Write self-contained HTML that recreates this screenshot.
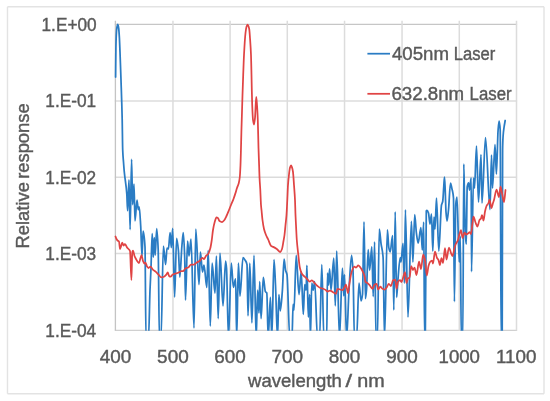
<!DOCTYPE html>
<html><head><meta charset="utf-8"><style>
html,body{margin:0;padding:0;background:#fff;}
svg{display:block;will-change:transform;}
text{font-family:"Liberation Sans",sans-serif;font-size:18px;fill:#595959;stroke:#595959;stroke-width:0.4px;}
</style></head><body>
<svg width="550" height="401" viewBox="0 0 550 401">
<rect x="0" y="0" width="550" height="401" fill="#fff"/>
<path d="M7.5,6.8H544M7.5,6.8V393.7M544,6.8V393.7M7.5,393.7H544" fill="none" stroke="#E3E3E3" stroke-width="1.4"/>
<g stroke="#D9D9D9" stroke-width="1.2" fill="none">
<line x1="114.80000000000001" y1="24.35" x2="517.1" y2="24.35" stroke="#C6C6C6" stroke-width="1.2"/>
<line x1="114.80000000000001" y1="101.10" x2="517.1" y2="101.10" stroke="#DCDCDC" stroke-width="1.5"/>
<line x1="114.80000000000001" y1="177.30" x2="517.1" y2="177.30" stroke="#DBDBDB" stroke-width="1.5"/>
<line x1="114.80000000000001" y1="253.60" x2="517.1" y2="253.60" stroke="#DCDCDC" stroke-width="1.5"/>
<line x1="114.80000000000001" y1="330.40" x2="517.1" y2="330.40" stroke="#D0D0D0" stroke-width="1.3"/>
<line x1="115.4" y1="20.8" x2="115.4" y2="330.5" stroke="#C4C4C4" stroke-width="1.3"/>
<line x1="172.95" y1="20.8" x2="172.95" y2="330.5" stroke="#DCDCDC" stroke-width="1.5"/>
<line x1="230.10" y1="20.8" x2="230.10" y2="330.5" stroke="#DCDCDC" stroke-width="1.5"/>
<line x1="287.30" y1="20.8" x2="287.30" y2="330.5" stroke="#DCDCDC" stroke-width="1.5"/>
<line x1="344.55" y1="20.8" x2="344.55" y2="330.5" stroke="#DCDCDC" stroke-width="1.5"/>
<line x1="402.05" y1="20.8" x2="402.05" y2="330.5" stroke="#DCDCDC" stroke-width="1.5"/>
<line x1="459.30" y1="20.8" x2="459.30" y2="330.5" stroke="#DCDCDC" stroke-width="1.5"/>
<line x1="516.50" y1="20.8" x2="516.50" y2="330.5" stroke="#DCDCDC" stroke-width="1.5"/>
</g>
<defs><clipPath id="pc"><rect x="112.4" y="0" width="407.1" height="330.7"/></clipPath></defs>
<g clip-path="url(#pc)" fill="none" stroke-linejoin="round" stroke-linecap="round">
<path stroke="#2A7CC4" stroke-width="1.75" d="M115.60,77.00C115.70,67.33 115.80,53.12 115.90,48.00C116.02,42.02 116.13,38.39 116.25,36.00C116.43,32.24 116.62,29.52 116.80,28.30C117.12,26.19 117.43,24.40 117.75,24.40C118.07,24.40 118.38,26.24 118.70,28.30C118.92,29.71 119.13,33.33 119.35,37.00C119.57,40.67 119.78,46.56 120.00,52.00C120.33,60.38 120.67,69.88 121.00,80.00C121.40,92.14 121.80,102.16 122.20,120.00C122.37,127.43 122.53,145.81 122.70,150.00C122.97,156.71 123.23,158.36 123.50,162.00C123.77,165.64 124.03,169.16 124.30,172.00C125.13,180.87 125.97,182.91 126.80,194.00C127.07,197.55 127.33,210.70 127.60,210.70C128.07,210.70 128.53,180.00 129.00,180.00C129.37,180.00 129.73,229.60 130.10,229.60C130.60,229.60 131.10,159.30 131.60,159.30C131.93,159.30 132.27,204.60 132.60,204.60C133.07,204.60 133.53,184.00 134.00,184.00C134.33,184.00 134.67,220.80 135.00,220.80C135.67,220.80 136.33,200.00 137.00,200.00C137.43,200.00 137.87,209.60 138.30,209.60C138.60,209.60 138.90,206.80 139.20,206.80C139.70,206.80 140.20,217.71 140.70,226.00C141.13,233.18 141.57,256.00 142.00,256.00C142.37,256.00 142.73,231.20 143.10,231.20C143.73,231.20 144.37,236.44 145.00,247.00C145.33,252.56 145.67,338.00 146.00,338.00C146.83,338.00 147.67,338.00 148.50,338.00C149.00,338.00 149.50,302.88 150.00,290.00C150.33,281.41 150.67,276.26 151.00,268.00C151.40,258.09 151.80,233.70 152.20,233.70C152.57,233.70 152.93,257.00 153.30,257.00C153.63,257.00 153.97,237.50 154.30,237.50C154.60,237.50 154.90,255.00 155.20,255.00C155.70,255.00 156.20,228.50 156.70,228.50C157.20,228.50 157.70,237.70 158.20,250.00C158.60,259.84 159.00,338.00 159.40,338.00C159.93,338.00 160.47,338.00 161.00,338.00C161.80,338.00 162.60,246.00 163.40,246.00C164.13,246.00 164.87,264.60 165.60,264.60C166.07,264.60 166.53,248.00 167.00,248.00C167.47,248.00 167.93,249.00 168.40,249.00C168.97,249.00 169.53,232.60 170.10,232.60C170.50,232.60 170.90,247.60 171.30,247.60C171.77,247.60 172.23,228.40 172.70,228.40C173.33,228.40 173.97,297.00 174.60,297.00C175.27,297.00 175.93,238.30 176.60,238.30C177.20,238.30 177.80,244.32 178.40,250.40C178.87,255.13 179.33,277.00 179.80,277.00C180.50,277.00 181.20,254.02 181.90,246.00C182.37,240.66 182.83,232.60 183.30,232.60C183.77,232.60 184.23,244.47 184.70,257.50C184.97,264.94 185.23,300.00 185.50,300.00C186.20,300.00 186.90,241.00 187.60,241.00C188.07,241.00 188.53,256.00 189.00,256.00C189.67,256.00 190.33,239.00 191.00,239.00C192.00,239.00 193.00,328.00 194.00,328.00C194.60,328.00 195.20,229.00 195.80,229.00C196.87,229.00 197.93,284.50 199.00,284.50C199.47,284.50 199.93,252.00 200.40,252.00C201.10,252.00 201.80,272.00 202.50,272.00C203.00,272.00 203.50,265.00 204.00,265.00C204.93,265.00 205.87,287.40 206.80,287.40C207.27,287.40 207.73,250.40 208.20,250.40C208.90,250.40 209.60,326.00 210.30,326.00C210.90,326.00 211.50,263.20 212.10,263.20C213.07,263.20 214.03,293.00 215.00,293.00C215.47,293.00 215.93,256.00 216.40,256.00C217.00,256.00 217.60,318.60 218.20,318.60C218.80,318.60 219.40,253.20 220.00,253.20C221.00,253.20 222.00,305.80 223.00,305.80C223.87,305.80 224.73,261.00 225.60,261.00C225.90,261.00 226.20,264.47 226.50,268.00C227.17,275.85 227.83,338.00 228.50,338.00C229.43,338.00 230.37,263.20 231.30,263.20C232.00,263.20 232.70,287.40 233.40,287.40C234.13,287.40 234.87,278.80 235.60,278.80C235.97,278.80 236.33,338.00 236.70,338.00C237.27,338.00 237.83,263.20 238.40,263.20C238.93,263.20 239.47,296.00 240.00,296.00C241.00,296.00 242.00,257.50 243.00,257.50C243.67,257.50 244.33,258.92 245.00,260.00C245.67,261.08 246.33,261.33 247.00,264.60C247.33,266.23 247.67,315.80 248.00,315.80C248.60,315.80 249.20,263.20 249.80,263.20C250.50,263.20 251.20,322.90 251.90,322.90C252.60,322.90 253.30,255.40 254.00,255.40C254.73,255.40 255.47,338.00 256.20,338.00C256.67,338.00 257.13,290.20 257.60,290.20C258.07,290.20 258.53,313.00 259.00,313.00C259.23,313.00 259.47,281.70 259.70,281.70C260.17,281.70 260.63,318.60 261.10,318.60C261.83,318.60 262.57,277.40 263.30,277.40C264.00,277.40 264.70,290.44 265.40,291.60C265.87,292.37 266.33,292.09 266.80,293.00C267.27,293.91 267.73,338.00 268.20,338.00C268.93,338.00 269.67,297.30 270.40,297.30C270.87,297.30 271.33,338.00 271.80,338.00C272.53,338.00 273.27,259.60 274.00,259.60C274.50,259.60 275.00,274.78 275.50,285.00C276.17,298.63 276.83,338.00 277.50,338.00C277.97,338.00 278.43,294.50 278.90,294.50C279.37,294.50 279.83,310.80 280.30,310.80C281.00,310.80 281.70,299.25 282.40,290.20C282.97,282.88 283.53,259.00 284.10,259.00C284.57,259.00 285.03,267.93 285.50,270.00C286.00,272.22 286.50,272.09 287.00,274.60C287.93,279.28 288.87,338.00 289.80,338.00C290.53,338.00 291.27,338.00 292.00,338.00C292.37,338.00 292.73,304.40 293.10,304.40C293.40,304.40 293.70,310.00 294.00,310.00C294.73,310.00 295.47,255.40 296.20,255.40C297.13,255.40 298.07,294.50 299.00,294.50C299.73,294.50 300.47,271.70 301.20,271.70C301.90,271.70 302.60,314.40 303.30,314.40C303.77,314.40 304.23,284.50 304.70,284.50C305.17,284.50 305.63,290.20 306.10,290.20C306.37,290.20 306.63,265.30 306.90,265.30C307.37,265.30 307.83,317.20 308.30,317.20C308.77,317.20 309.23,294.50 309.70,294.50C309.93,294.50 310.17,338.00 310.40,338.00C310.87,338.00 311.33,283.10 311.80,283.10C312.27,283.10 312.73,290.20 313.20,290.20C313.70,290.20 314.20,281.70 314.70,281.70C315.63,281.70 316.57,338.00 317.50,338.00C318.20,338.00 318.90,338.00 319.60,338.00C320.33,338.00 321.07,264.60 321.80,264.60C322.50,264.60 323.20,338.00 323.90,338.00C324.83,338.00 325.77,338.00 326.70,338.00C326.97,338.00 327.23,273.00 327.50,273.00C327.83,273.00 328.17,285.00 328.50,285.00C328.87,285.00 329.23,268.90 329.60,268.90C330.07,268.90 330.53,290.00 331.00,290.00C331.93,290.00 332.87,258.20 333.80,258.20C334.30,258.20 334.80,305.80 335.30,305.80C335.77,305.80 336.23,251.00 336.70,251.00C337.63,251.00 338.57,338.00 339.50,338.00C340.47,338.00 341.43,268.20 342.40,268.20C342.87,268.20 343.33,295.90 343.80,295.90C344.03,295.90 344.27,274.60 344.50,274.60C345.20,274.60 345.90,338.00 346.60,338.00C347.40,338.00 348.20,302.82 349.00,290.00C349.87,276.11 350.73,255.40 351.60,255.40C352.07,255.40 352.53,261.99 353.00,270.00C353.47,278.01 353.93,338.00 354.40,338.00C355.13,338.00 355.87,338.00 356.60,338.00C357.40,338.00 358.20,283.00 359.00,283.00C359.70,283.00 360.40,300.90 361.10,300.90C361.57,300.90 362.03,298.36 362.50,294.50C363.00,290.36 363.50,221.80 364.00,221.80C364.47,221.80 364.93,298.70 365.40,298.70C365.77,298.70 366.13,294.20 366.50,290.00C367.07,283.51 367.63,249.70 368.20,249.70C368.67,249.70 369.13,270.30 369.60,270.30C370.33,270.30 371.07,246.90 371.80,246.90C372.27,246.90 372.73,296.60 373.20,296.60C373.67,296.60 374.13,241.90 374.60,241.90C375.07,241.90 375.53,338.00 376.00,338.00C376.47,338.00 376.93,338.00 377.40,338.00C378.03,338.00 378.67,229.10 379.30,229.10C379.87,229.10 380.43,239.05 381.00,243.30C381.70,248.55 382.40,248.56 383.10,257.50C383.57,263.46 384.03,338.00 384.50,338.00C385.47,338.00 386.43,229.80 387.40,229.80C387.87,229.80 388.33,245.33 388.80,247.60C389.27,249.87 389.73,251.80 390.20,251.80C391.00,251.80 391.80,235.50 392.60,235.50C393.00,235.50 393.40,310.00 393.80,310.00C394.27,310.00 394.73,211.90 395.20,211.90C395.67,211.90 396.13,297.30 396.60,297.30C397.07,297.30 397.53,284.28 398.00,279.00C398.73,270.71 399.47,257.50 400.20,257.50C400.47,257.50 400.73,262.00 401.00,262.00C401.67,262.00 402.33,243.30 403.00,243.30C403.47,243.30 403.93,283.00 404.40,283.00C404.73,283.00 405.07,209.80 405.40,209.80C406.27,209.80 407.13,317.20 408.00,317.20C409.13,317.20 410.27,221.30 411.40,221.30C411.90,221.30 412.40,262.00 412.90,262.00C413.50,262.00 414.10,214.50 414.70,214.50C415.27,214.50 415.83,228.82 416.40,233.00C417.00,237.43 417.60,243.00 418.20,243.00C419.10,243.00 420.00,227.50 420.90,227.50C421.37,227.50 421.83,250.00 422.30,250.00C422.77,250.00 423.23,222.00 423.70,222.00C424.00,222.00 424.30,338.00 424.60,338.00C424.83,338.00 425.07,338.00 425.30,338.00C425.63,338.00 425.97,211.63 426.30,211.00C426.53,210.56 426.77,210.30 427.00,210.30C427.50,210.30 428.00,211.55 428.50,213.00C429.00,214.45 429.50,224.00 430.00,224.00C430.50,224.00 431.00,214.00 431.50,214.00C431.93,214.00 432.37,251.00 432.80,251.00C433.20,251.00 433.60,217.00 434.00,217.00C434.33,217.00 434.67,229.00 435.00,229.00C435.50,229.00 436.00,198.00 436.50,198.00C437.27,198.00 438.03,251.00 438.80,251.00C439.70,251.00 440.60,209.11 441.50,205.00C441.90,203.17 442.30,203.45 442.70,201.50C443.07,199.71 443.43,190.91 443.80,186.00C444.03,182.87 444.27,177.00 444.50,177.00C444.73,177.00 444.97,184.85 445.20,190.00C445.47,195.89 445.73,208.31 446.00,212.00C446.33,216.61 446.67,221.00 447.00,221.00C447.50,221.00 448.00,214.69 448.50,210.00C449.17,203.75 449.83,183.00 450.50,183.00C451.00,183.00 451.50,186.60 452.00,189.00C452.50,191.40 453.00,191.83 453.50,198.00C453.80,201.70 454.10,301.60 454.40,301.60C454.87,301.60 455.33,208.92 455.80,204.00C456.20,199.79 456.60,197.00 457.00,197.00C457.73,197.00 458.47,262.00 459.20,262.00C459.57,262.00 459.93,236.00 460.30,236.00C460.63,236.00 460.97,338.00 461.30,338.00C461.80,338.00 462.30,338.00 462.80,338.00C463.13,338.00 463.47,164.00 463.80,164.00C464.07,164.00 464.33,194.21 464.60,205.00C464.93,218.49 465.27,233.50 465.60,238.00C465.83,241.15 466.07,244.20 466.30,244.20C466.60,244.20 466.90,188.84 467.20,187.00C467.67,184.14 468.13,182.80 468.60,182.80C468.90,182.80 469.20,190.00 469.50,190.00C470.07,190.00 470.63,177.80 471.20,177.80C471.30,177.80 471.40,271.70 471.50,271.70C472.17,271.70 472.83,178.00 473.50,178.00C473.83,178.00 474.17,188.00 474.50,188.00C475.17,188.00 475.83,146.00 476.50,146.00C477.17,146.00 477.83,202.00 478.50,202.00C479.33,202.00 480.17,154.50 481.00,154.50C481.33,154.50 481.67,203.00 482.00,203.00C483.17,203.00 484.33,137.50 485.50,137.50C487.00,137.50 488.50,209.50 490.00,209.50C490.50,209.50 491.00,155.00 491.50,155.00C491.83,155.00 492.17,188.00 492.50,188.00C493.33,188.00 494.17,144.50 495.00,144.50C495.47,144.50 495.93,174.00 496.40,174.00C496.97,174.00 497.53,137.14 498.10,130.00C498.43,125.80 498.77,121.20 499.10,121.20C499.47,121.20 499.83,124.15 500.20,130.00C500.50,134.79 500.80,338.00 501.10,338.00C501.47,338.00 501.83,338.00 502.20,338.00C502.33,338.00 502.47,157.29 502.60,150.00C502.77,140.89 502.93,138.41 503.10,136.00C503.43,131.18 503.77,129.39 504.10,127.00C504.47,124.38 504.83,122.67 505.20,120.50"/>
<path stroke="#E04444" stroke-width="1.75" d="M115.50,236.50C115.83,237.33 116.17,238.38 116.50,239.00C116.83,239.62 117.17,240.18 117.50,240.50C118.00,240.97 118.50,240.85 119.00,241.50C119.33,241.93 119.67,249.00 120.00,249.00C120.33,249.00 120.67,247.45 121.00,246.50C121.40,245.36 121.80,242.50 122.20,242.50C122.63,242.50 123.07,245.50 123.50,245.50C123.93,245.50 124.37,244.00 124.80,244.00C125.20,244.00 125.60,244.88 126.00,245.50C126.33,246.02 126.67,247.05 127.00,247.50C127.50,248.18 128.00,248.43 128.50,249.00C129.00,249.57 129.50,249.73 130.00,251.00C130.47,252.18 130.93,280.00 131.40,280.00C131.70,280.00 132.00,253.16 132.30,252.00C132.53,251.10 132.77,250.50 133.00,250.50C133.50,250.50 134.00,254.71 134.50,256.00C135.00,257.29 135.50,258.09 136.00,259.00C136.50,259.91 137.00,260.88 137.50,261.50C138.00,262.12 138.50,263.00 139.00,263.00C139.50,263.00 140.00,259.57 140.50,258.00C140.83,256.95 141.17,255.00 141.50,255.00C142.00,255.00 142.50,259.82 143.00,261.00C143.50,262.18 144.00,263.50 144.50,263.50C144.83,263.50 145.17,262.50 145.50,262.50C146.00,262.50 146.50,265.77 147.00,266.50C147.50,267.23 148.00,268.00 148.50,268.00C149.17,268.00 149.83,266.50 150.50,266.50C151.27,266.50 152.03,268.85 152.80,269.60C153.73,270.51 154.67,270.90 155.60,271.70C156.57,272.53 157.53,273.63 158.50,274.60C159.43,275.53 160.37,277.40 161.30,277.40C162.20,277.40 163.10,277.07 164.00,276.70C164.77,276.39 165.53,275.50 166.30,274.60C166.77,274.05 167.23,272.40 167.70,272.40C168.17,272.40 168.63,275.61 169.10,276.00C169.57,276.39 170.03,276.70 170.50,276.70C171.23,276.70 171.97,275.00 172.70,274.60C173.40,274.22 174.10,274.03 174.80,273.80C175.70,273.50 176.60,273.34 177.50,273.00C178.17,272.75 178.83,272.36 179.50,272.00C180.07,271.69 180.63,271.00 181.20,271.00C181.90,271.00 182.60,271.00 183.30,271.00C184.03,271.00 184.77,268.51 185.50,268.20C186.43,267.80 187.37,267.88 188.30,267.50C189.20,267.13 190.10,264.60 191.00,264.60C191.97,264.60 192.93,264.60 193.90,264.60C194.87,264.60 195.83,263.08 196.80,262.50C197.77,261.92 198.73,261.70 199.70,261.00C200.60,260.35 201.50,257.80 202.40,257.80C202.93,257.80 203.47,259.20 204.00,259.20C204.67,259.20 205.33,256.54 206.00,255.80C206.73,254.99 207.47,254.93 208.20,254.00C208.90,253.12 209.60,250.92 210.30,248.30C210.77,246.56 211.23,243.58 211.70,240.50C212.13,237.64 212.57,232.61 213.00,230.00C213.57,226.59 214.13,223.91 214.70,222.00C215.30,219.98 215.90,217.30 216.50,217.30C217.00,217.30 217.50,217.75 218.00,218.20C218.50,218.65 219.00,220.65 219.50,221.00C220.33,221.58 221.17,222.00 222.00,222.00C222.67,222.00 223.33,221.20 224.00,220.50C224.83,219.63 225.67,217.71 226.50,216.00C227.33,214.29 228.17,212.04 229.00,210.00C229.67,208.37 230.33,206.63 231.00,205.00C231.83,202.96 232.67,201.23 233.50,199.00C234.17,197.21 234.83,195.11 235.50,193.00C236.00,191.42 236.50,189.52 237.00,188.00C237.60,186.18 238.20,185.36 238.80,183.00C239.13,181.69 239.47,180.05 239.80,177.00C240.03,174.87 240.27,170.35 240.50,165.00C240.83,157.35 241.17,139.63 241.50,128.00C241.83,116.37 242.17,105.17 242.50,95.00C242.73,87.88 242.97,81.23 243.20,75.00C243.47,67.88 243.73,60.06 244.00,55.00C244.50,45.51 245.00,37.24 245.50,33.00C245.83,30.17 246.17,27.92 246.50,26.80C246.83,25.68 247.17,24.50 247.50,24.50C247.83,24.50 248.17,25.46 248.50,26.30C248.77,26.97 249.03,27.88 249.30,29.50C249.53,30.92 249.77,34.73 250.00,38.00C250.33,42.68 250.67,46.67 251.00,55.00C251.17,59.16 251.33,67.52 251.50,75.00C251.60,79.49 251.70,85.68 251.80,90.00C251.93,95.75 252.07,101.54 252.20,105.00C252.47,111.92 252.73,118.02 253.00,120.00C253.33,122.48 253.67,124.50 254.00,124.50C254.33,124.50 254.67,121.12 255.00,118.00C255.40,114.26 255.80,97.00 256.20,97.00C256.47,97.00 256.73,101.52 257.00,105.00C257.27,108.48 257.53,113.14 257.80,120.00C258.03,126.01 258.27,140.22 258.50,148.00C258.73,155.78 258.97,161.15 259.20,168.00C259.30,170.94 259.40,174.79 259.50,177.00C259.77,182.89 260.03,185.06 260.30,190.00C260.53,194.33 260.77,201.88 261.00,205.00C261.17,207.23 261.33,208.33 261.50,210.00C261.83,213.33 262.17,217.46 262.50,220.00C263.00,223.81 263.50,226.97 264.00,229.00C264.67,231.71 265.33,233.37 266.00,235.00C266.73,236.79 267.47,237.93 268.20,239.50C269.17,241.56 270.13,245.33 271.10,246.00C271.80,246.49 272.50,246.56 273.20,246.90C274.40,247.49 275.60,248.17 276.80,249.00C277.97,249.81 279.13,252.00 280.30,252.00C280.87,252.00 281.43,250.52 282.00,249.00C282.50,247.66 283.00,243.83 283.50,241.00C283.83,239.11 284.17,237.50 284.50,235.00C284.83,232.50 285.17,228.33 285.50,225.00C285.83,221.67 286.17,219.40 286.50,215.00C286.77,211.48 287.03,205.34 287.30,200.00C287.53,195.33 287.77,188.36 288.00,185.00C288.33,180.21 288.67,177.28 289.00,174.50C289.33,171.72 289.67,168.71 290.00,167.60C290.33,166.49 290.67,165.40 291.00,165.40C291.33,165.40 291.67,166.47 292.00,167.40C292.33,168.33 292.67,169.73 293.00,172.00C293.33,174.27 293.67,180.36 294.00,185.00C294.33,189.64 294.67,193.08 295.00,200.00C295.17,203.46 295.33,211.00 295.50,215.00C295.67,219.00 295.83,221.77 296.00,225.00C296.27,230.17 296.53,236.45 296.80,240.00C297.30,246.65 297.80,250.14 298.30,254.70C298.80,259.26 299.30,265.22 299.80,267.50C300.50,270.69 301.20,272.70 301.90,273.80C302.83,275.27 303.77,275.80 304.70,276.70C305.47,277.44 306.23,278.04 307.00,278.80C307.90,279.69 308.80,281.70 309.70,281.70C310.40,281.70 311.10,280.30 311.80,280.30C312.77,280.30 313.73,282.13 314.70,283.10C315.63,284.03 316.57,285.23 317.50,286.00C318.47,286.80 319.43,287.61 320.40,288.00C321.33,288.38 322.27,288.46 323.20,288.80C324.13,289.14 325.07,289.57 326.00,290.20C326.50,290.54 327.00,291.60 327.50,291.60C328.33,291.60 329.17,290.50 330.00,290.50C331.03,290.50 332.07,291.74 333.10,292.30C334.07,292.83 335.03,293.80 336.00,293.80C336.47,293.80 336.93,288.80 337.40,288.80C338.33,288.80 339.27,289.24 340.20,289.50C340.93,289.71 341.67,290.20 342.40,290.20C343.10,290.20 343.80,288.55 344.50,287.40C344.97,286.63 345.43,284.50 345.90,284.50C346.60,284.50 347.30,293.00 348.00,293.00C348.50,293.00 349.00,286.05 349.50,283.10C350.20,278.97 350.90,274.00 351.60,272.00C352.53,269.34 353.47,266.70 354.40,266.70C354.93,266.70 355.47,267.50 356.00,267.50C356.77,267.50 357.53,265.30 358.30,265.30C359.00,265.30 359.70,266.60 360.40,267.50C361.10,268.40 361.80,269.58 362.50,271.00C363.23,272.49 363.97,273.67 364.70,276.70C364.93,277.67 365.17,281.37 365.40,281.70C366.10,282.69 366.80,282.54 367.50,283.10C368.20,283.66 368.90,284.43 369.60,285.20C370.57,286.26 371.53,288.80 372.50,288.80C373.20,288.80 373.90,284.90 374.60,284.50C375.30,284.10 376.00,283.80 376.70,283.80C377.17,283.80 377.63,289.50 378.10,289.50C378.83,289.50 379.57,286.70 380.30,286.70C381.00,286.70 381.70,288.45 382.40,288.80C383.10,289.15 383.80,289.50 384.50,289.50C385.23,289.50 385.97,288.30 386.70,287.40C387.40,286.54 388.10,283.80 388.80,283.80C389.50,283.80 390.20,286.00 390.90,286.00C391.63,286.00 392.37,280.73 393.10,280.30C393.80,279.89 394.50,279.60 395.20,279.60C395.67,279.60 396.13,288.80 396.60,288.80C397.07,288.80 397.53,282.41 398.00,281.70C398.67,280.69 399.33,280.00 400.00,280.00C400.50,280.00 401.00,282.00 401.50,282.00C402.00,282.00 402.50,279.41 403.00,278.00C403.67,276.12 404.33,272.00 405.00,272.00C405.50,272.00 406.00,283.00 406.50,283.00C407.00,283.00 407.50,278.00 408.00,278.00C408.50,278.00 409.00,278.00 409.50,278.00C410.07,278.00 410.63,266.00 411.20,266.00C411.80,266.00 412.40,270.00 413.00,270.00C413.50,270.00 414.00,267.50 414.50,267.50C415.17,267.50 415.83,275.00 416.50,275.00C417.33,275.00 418.17,261.50 419.00,261.50C419.67,261.50 420.33,269.00 421.00,269.00C421.73,269.00 422.47,254.50 423.20,254.50C423.80,254.50 424.40,257.29 425.00,260.00C425.60,262.71 426.20,275.50 426.80,275.50C427.37,275.50 427.93,268.03 428.50,266.00C429.00,264.21 429.50,262.60 430.00,262.00C430.67,261.20 431.33,260.50 432.00,260.50C432.33,260.50 432.67,263.50 433.00,263.50C433.67,263.50 434.33,251.50 435.00,251.50C435.67,251.50 436.33,256.76 437.00,258.00C437.50,258.93 438.00,259.00 438.50,260.00C438.93,260.87 439.37,265.00 439.80,265.00C440.37,265.00 440.93,258.00 441.50,258.00C442.00,258.00 442.50,263.00 443.00,263.00C443.67,263.00 444.33,248.00 445.00,248.00C445.50,248.00 446.00,259.50 446.50,259.50C447.33,259.50 448.17,247.50 449.00,247.50C449.67,247.50 450.33,251.47 451.00,253.00C451.50,254.15 452.00,256.00 452.50,256.00C453.17,256.00 453.83,250.30 454.50,248.00C454.93,246.51 455.37,245.01 455.80,244.00C456.53,242.29 457.27,241.88 458.00,240.00C458.50,238.72 459.00,235.60 459.50,234.00C460.00,232.40 460.50,230.00 461.00,230.00C461.50,230.00 462.00,238.00 462.50,238.00C463.17,238.00 463.83,232.50 464.50,232.50C465.00,232.50 465.50,234.50 466.00,234.50C466.67,234.50 467.33,233.92 468.00,233.50C468.60,233.12 469.20,232.00 469.80,232.00C470.20,232.00 470.60,234.00 471.00,234.00C471.50,234.00 472.00,226.43 472.50,223.00C472.83,220.71 473.17,216.50 473.50,216.50C474.17,216.50 474.83,220.90 475.50,222.50C476.17,224.10 476.83,226.50 477.50,226.50C478.17,226.50 478.83,220.99 479.50,220.00C480.00,219.25 480.50,219.31 481.00,218.50C481.33,217.96 481.67,215.00 482.00,215.00C482.50,215.00 483.00,220.50 483.50,220.50C484.00,220.50 484.50,213.78 485.00,211.50C485.50,209.22 486.00,207.09 486.50,206.00C487.17,204.55 487.83,204.47 488.50,203.00C488.83,202.27 489.17,199.50 489.50,199.50C490.17,199.50 490.83,208.00 491.50,208.00C492.00,208.00 492.50,204.57 493.00,203.00C493.33,201.95 493.67,201.14 494.00,200.00C494.83,197.15 495.67,189.50 496.50,189.50C497.33,189.50 498.17,197.00 499.00,197.00C499.50,197.00 500.00,186.50 500.50,186.50C501.00,186.50 501.50,190.79 502.00,193.00C502.67,195.94 503.33,202.00 504.00,202.00C504.50,202.00 505.00,194.00 505.50,190.00"/>
</g>
<text x="41.56" y="30.6" textLength="55.06" lengthAdjust="spacingAndGlyphs">1.E+00</text>
<text x="45.36" y="107.3" textLength="50.83" lengthAdjust="spacingAndGlyphs">1.E-01</text>
<text x="45.36" y="183.5" textLength="50.83" lengthAdjust="spacingAndGlyphs">1.E-02</text>
<text x="45.36" y="259.8" textLength="50.83" lengthAdjust="spacingAndGlyphs">1.E-03</text>
<text x="45.36" y="336.6" textLength="50.83" lengthAdjust="spacingAndGlyphs">1.E-04</text>
<text x="99.78" y="362.8" textLength="31.48" lengthAdjust="spacingAndGlyphs">400</text>
<text x="157.11" y="362.8" textLength="31.60" lengthAdjust="spacingAndGlyphs">500</text>
<text x="214.37" y="362.8" textLength="31.49" lengthAdjust="spacingAndGlyphs">600</text>
<text x="271.46" y="362.8" textLength="31.60" lengthAdjust="spacingAndGlyphs">700</text>
<text x="328.82" y="362.8" textLength="31.49" lengthAdjust="spacingAndGlyphs">800</text>
<text x="386.32" y="362.8" textLength="31.49" lengthAdjust="spacingAndGlyphs">900</text>
<text x="438.55" y="362.8" textLength="41.41" lengthAdjust="spacingAndGlyphs">1000</text>
<text x="495.94" y="362.8" textLength="40.40" lengthAdjust="spacingAndGlyphs">1100</text>
<text x="248.10" y="386.8" textLength="93.79" lengthAdjust="spacingAndGlyphs">wavelength</text>
<text x="345.60" y="386.8" textLength="6.60" lengthAdjust="spacingAndGlyphs">/</text>
<text x="357.38" y="386.8" textLength="27.43" lengthAdjust="spacingAndGlyphs">nm</text>
<text transform="translate(28.8,247.0) rotate(-90)" x="-1.53" y="0" textLength="66.38" lengthAdjust="spacingAndGlyphs">Relative</text>
<text transform="translate(28.8,177.6) rotate(-90)" x="-1.22" y="0" textLength="75.49" lengthAdjust="spacingAndGlyphs">response</text>
<text x="391.99" y="59.8" textLength="57.00" lengthAdjust="spacingAndGlyphs">405nm</text>
<text x="453.82" y="59.8" textLength="41.49" lengthAdjust="spacingAndGlyphs">Laser</text>
<text x="391.47" y="99.9" textLength="72.73" lengthAdjust="spacingAndGlyphs">632.8nm</text>
<text x="469.60" y="99.9" textLength="42.01" lengthAdjust="spacingAndGlyphs">Laser</text>
<line x1="367.4" y1="53.7" x2="390" y2="53.7" stroke="#2A7CC4" stroke-width="1.75"/>
<line x1="367.4" y1="93.8" x2="390" y2="93.8" stroke="#E04444" stroke-width="1.75"/>
</svg>
</body></html>
